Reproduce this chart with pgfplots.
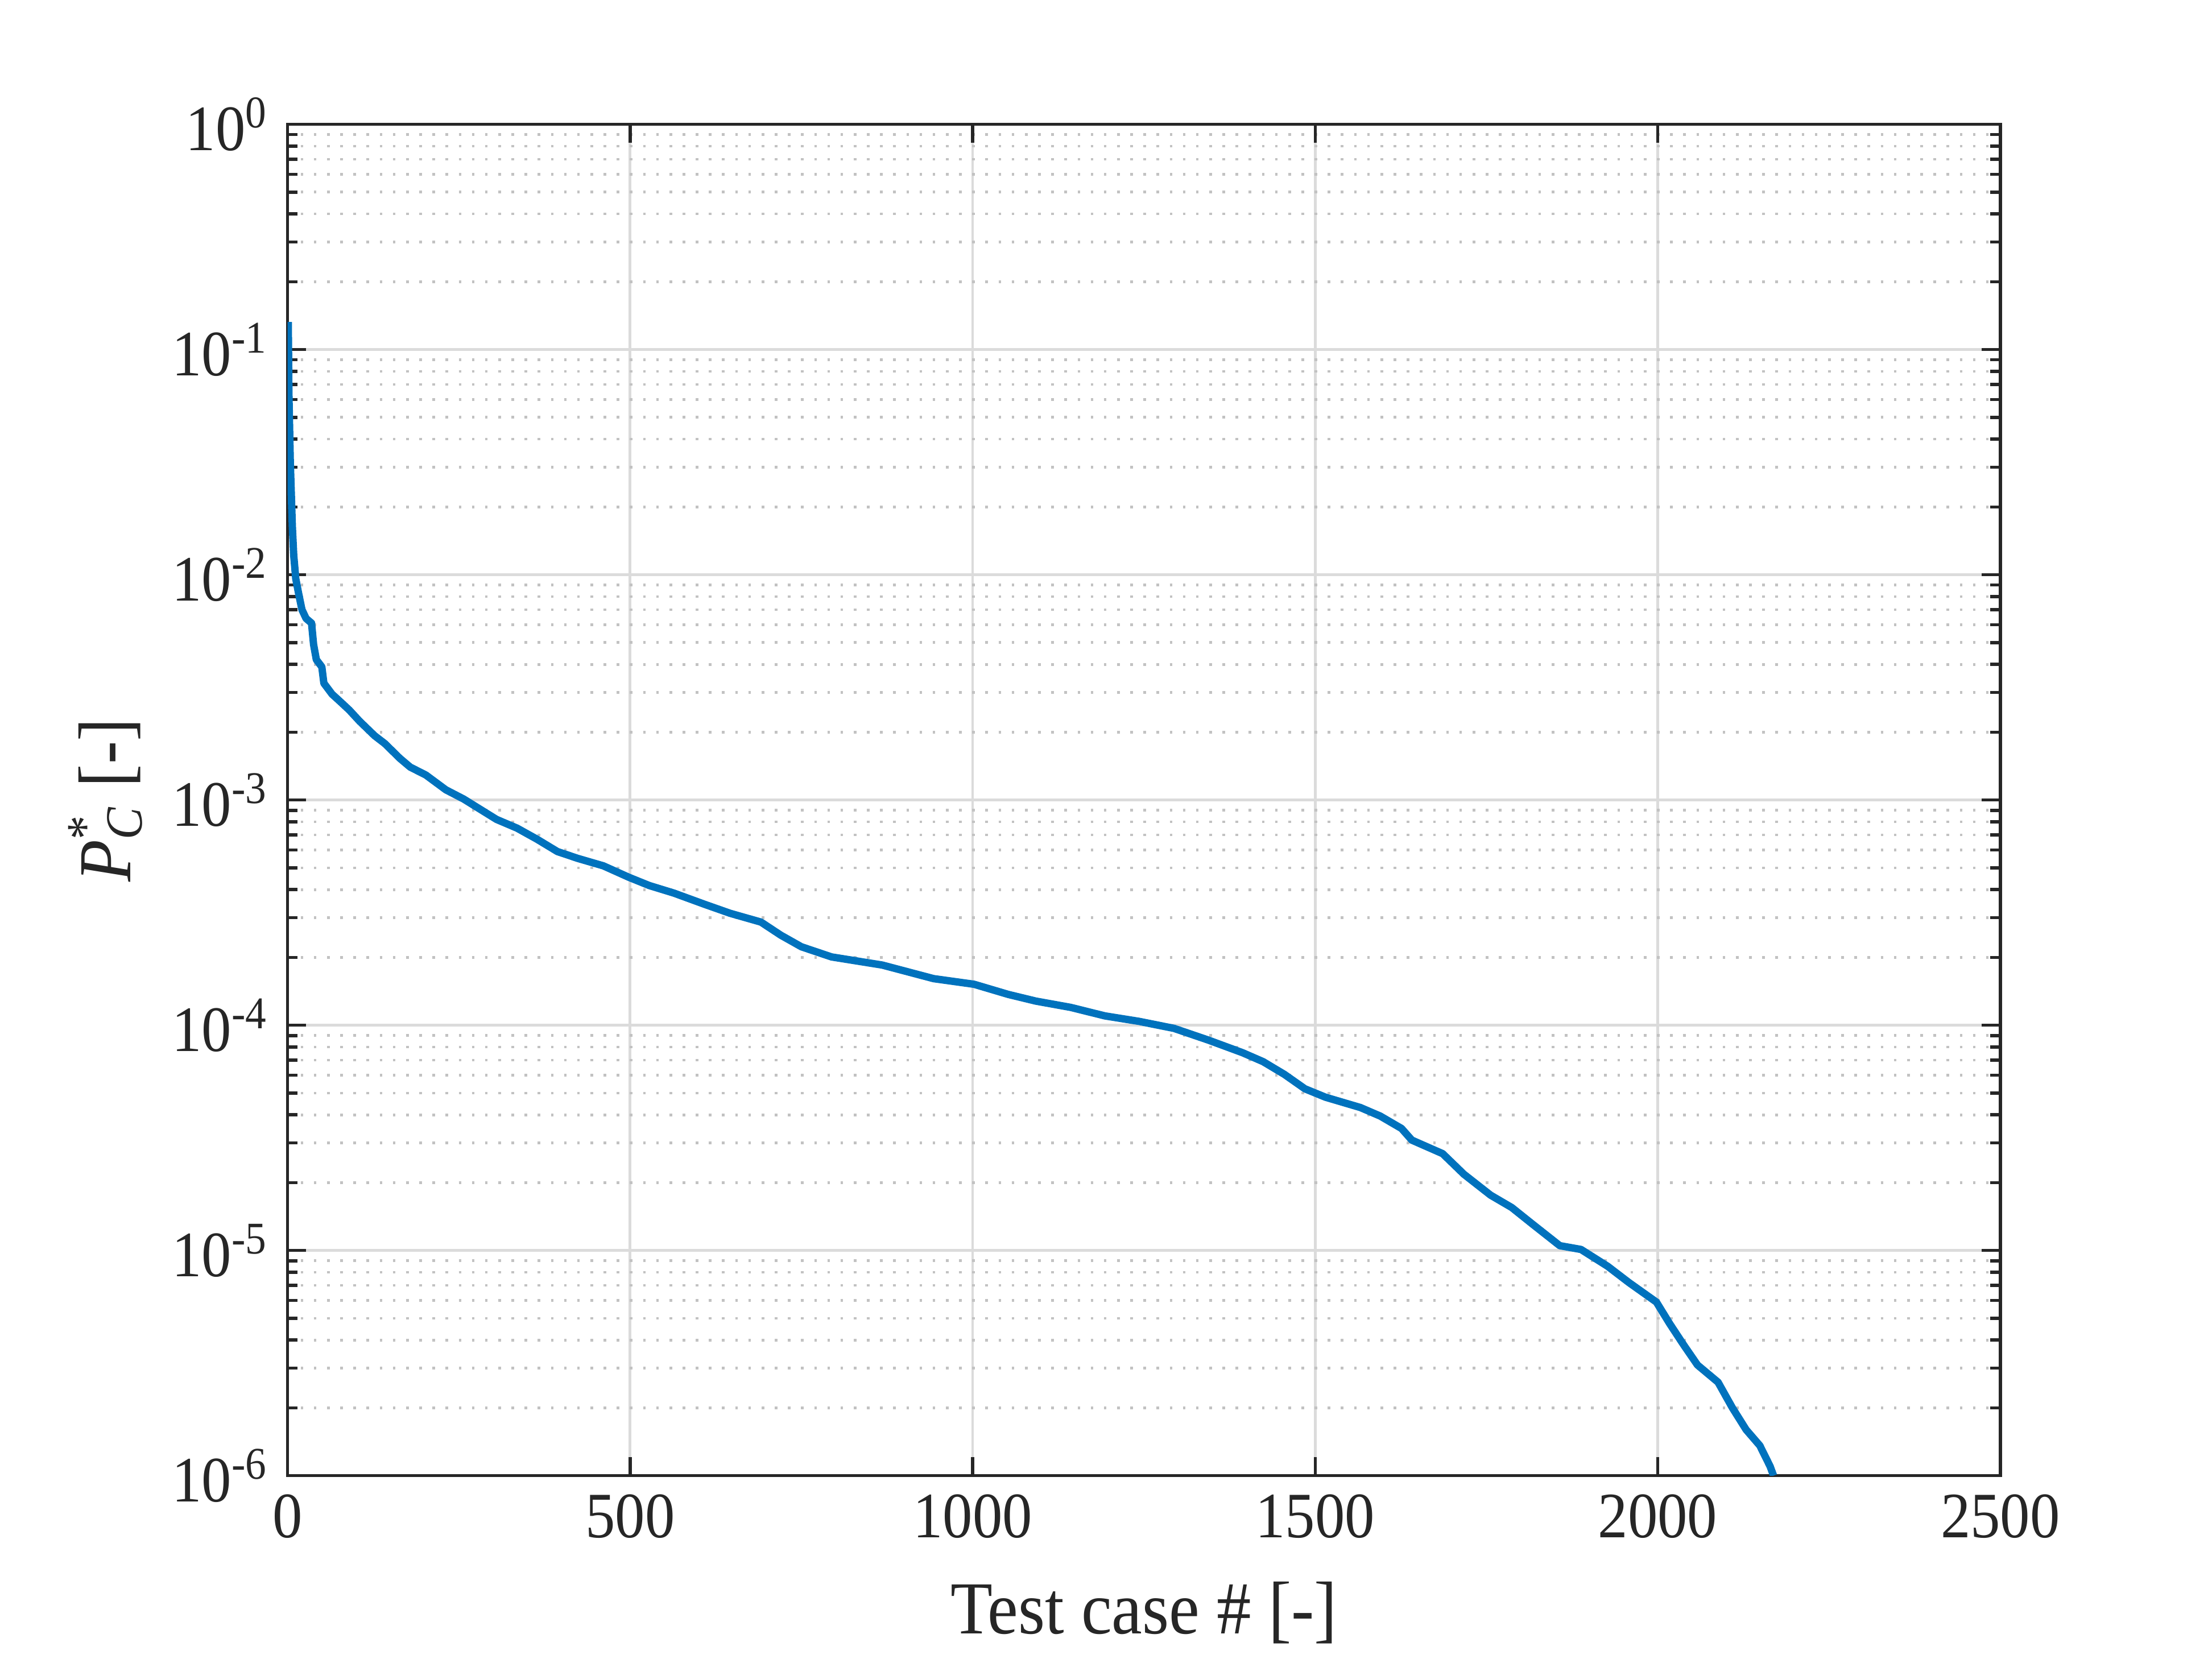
\documentclass[border=0pt]{standalone}
\usepackage{fontspec}
\setmainfont{Liberation Serif}[FakeStretch=0.92]
\usepackage{pgfplots}
\pgfplotsset{compat=1.18}
\definecolor{mblue}{RGB}{0,114,189}
\definecolor{axgray}{RGB}{38,38,38}

\pgfplotstableread{
x y
1 1.325e-1
2 6.3e-2
4 3.16e-2
7 1.63e-2
9 1.22e-2
12 9.6e-3
16 8.3e-3
21 7.0e-3
27 6.4e-3
35 6.1e-3
38 4.9e-3
42 4.2e-3
50 3.9e-3
53 3.3e-3
65 2.95e-3
76 2.75e-3
90 2.51e-3
105 2.24e-3
127 1.93e-3
142 1.78e-3
164 1.53e-3
179 1.40e-3
202 1.29e-3
231 1.11e-3
257 1.01e-3
276 9.3e-4
305 8.2e-4
335 7.5e-4
364 6.7e-4
394 5.9e-4
424 5.5e-4
461 5.1e-4
498 4.54e-4
528 4.17e-4
564 3.86e-4
609 3.44e-4
646 3.14e-4
691 2.87e-4
720 2.51e-4
750 2.23e-4
794 2.01e-4
868 1.85e-4
943 1.61e-4
1002 1.52e-4
1052 1.37e-4
1092 1.28e-4
1143 1.20e-4
1193 1.10e-4
1243 1.04e-4
1294 9.68e-5
1344 8.59e-5
1394 7.55e-5
1424 6.89e-5
1455 6.05e-5
1485 5.22e-5
1515 4.79e-5
1566 4.31e-5
1595 3.95e-5
1626 3.48e-5
1641 3.09e-5
1686 2.69e-5
1717 2.18e-5
1756 1.76e-5
1787 1.55e-5
1817 1.31e-5
1857 1.05e-5
1888 1.01e-5
1927 8.5e-6
1958 7.2e-6
1998 5.9e-6
2018 4.7e-6
2038 3.8e-6
2058 3.1e-6
2088 2.6e-6
2109 2.0e-6
2129 1.6e-6
2149 1.36e-6
2164 1.1e-6
2169 1.0e-6
}\pcdata

\begin{document}
\begin{tikzpicture}
\begin{axis}[
    scale only axis,
    width=325.2pt, height=256.6pt,
    ymode=log,
    xmin=0, xmax=2500, ymin=1e-6, ymax=1,
    xtick={0,500,...,2500},
    minor x tick num=0,
    ytick={1e-6,1e-5,1e-4,1e-3,1e-2,1e-1,1},
    yticklabels={10\textsuperscript{-6},10\textsuperscript{-5},10\textsuperscript{-4},10\textsuperscript{-3},10\textsuperscript{-2},10\textsuperscript{-1},10\textsuperscript{0}},
    /pgf/number format/assume math mode=true,
    /pgf/number format/set thousands separator={},
    scaled x ticks=false,
    tick label style={font=\fontsize{12.3}{14}\selectfont, color=axgray},
    label style={font=\fontsize{14.2}{16}\selectfont, color=axgray},
    axis line style={axgray, line width=0.6pt},
    tick style={axgray, line width=0.6pt},
    tick align=inside, tick pos=both,
    major tick length=3.5pt, minor tick length=1.9pt,
    grid=both,
    major grid style={line width=0.5pt, color=black!14},
    minor grid style={line width=0.5pt, color=black!24, dotted},
    xlabel={Test case \# [-]},
    ylabel={\textit{P}\rlap{\textsuperscript{*}}\textsubscript{\textit{C}} [-]},
    xlabel style={at={(axis description cs:0.5,-0.1013)}, anchor=center},
    ylabel style={at={(axis description cs:-0.1064,0.5)}, anchor=center},
]
\addplot[mblue, line width=1.4pt, line join=round] table[x=x, y=y] {\pcdata};
\end{axis}
\pgfresetboundingbox
\path ([shift={(-54.6pt,-34.8pt)}]current axis.south west) rectangle ([shift={(40.2pt,23.6pt)}]current axis.north east);
\end{tikzpicture}
\end{document}
